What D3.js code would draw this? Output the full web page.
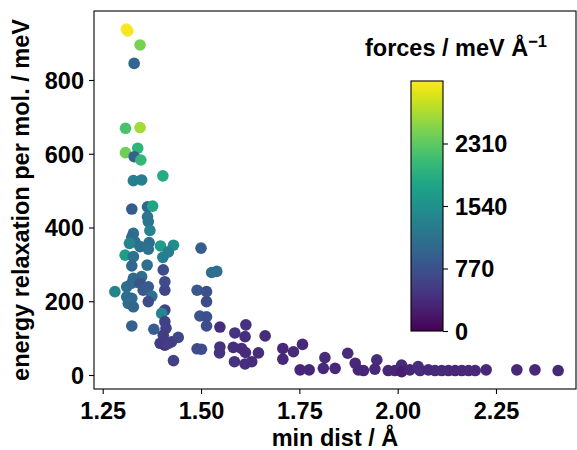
<!DOCTYPE html>
<html><head><meta charset="utf-8">
<script src="https://cdn.jsdelivr.net/npm/d3@7/dist/d3.min.js"></script>
<style>
html,body{margin:0;padding:0;background:#fff;}
svg{display:block;font-family:"Liberation Sans",Arial,sans-serif;font-weight:bold;}
</style></head>
<body>
<svg id="chart" width="577" height="450"></svg>
<script>
// ---- data ----
const minDist = [1.310,1.314,1.345,1.330,1.308,1.345,1.339,1.308,1.330,1.347,1.403,1.328,1.349,1.324,1.364,1.377,1.364,1.366,1.370,1.328,
1.324,1.332,1.318,1.345,1.368,1.366,1.397,1.430,1.417,1.403,1.307,1.328,1.324,1.363,1.404,1.500,1.328,1.349,1.408,1.281,
1.311,1.324,1.345,1.353,1.366,1.375,1.408,1.311,1.324,1.315,1.328,1.366,1.490,1.408,1.400,1.324,1.380,1.408,1.411,1.404,
1.442,1.425,1.396,1.408,1.417,1.430,1.514,1.514,1.497,1.514,1.514,1.548,1.527,1.540,1.614,1.586,1.612,1.663,1.490,1.501,
1.548,1.547,1.582,1.603,1.613,1.646,1.629,1.585,1.612,1.708,1.708,1.735,1.758,1.752,1.775,1.815,1.811,1.841,1.873,1.892,
1.900,1.913,1.947,1.942,1.976,1.993,2.010,2.010,2.031,2.052,2.057,2.078,2.095,2.112,2.129,2.146,2.163,2.180,2.197,2.225,
2.303,2.349,2.408];
const energyRelax = [938,933,895,845,669,671,615,603,592,583,540,527,529,450,456,458,429,416,392,384,
373,361,357,348,359,341,350,352,334,319,325,321,296,298,285,344,262,267,253,226,
239,249,249,230,239,214,230,212,208,194,185,199,230,176,167,133,124,145,127,108,
102,90,86,81,86,39,226,199,160,158,133,130,278,281,136,114,104,106,71,70,
76,60,75,72,61,60,36,36,30,72,43,63,83,14,14,47,18,18,59,32,
14,12,41,16,12,12,27,9,14,23,12,14,12,12,12,12,12,12,12,14,
14,14,12];
const forces = [3080,3040,2450,1000,2200,2650,2000,2400,950,2050,1900,1300,1300,880,1000,1800,1200,1200,1350,1100,
1050,1100,1400,1100,1100,1150,1700,1500,1300,1300,1700,1150,1000,1100,700,900,1050,1050,700,1400,
1100,1050,800,850,900,1150,650,1100,1050,1100,1000,700,850,600,1400,950,900,600,600,550,
650,600,550,500,550,600,750,700,800,750,700,400,1100,1100,450,450,400,380,700,700,
450,450,400,400,380,380,380,450,400,350,350,380,350,330,330,380,350,350,380,350,
330,330,380,350,330,330,380,250,330,400,400,370,370,370,340,340,340,340,340,340,
340,340,340];
const xTicks = [1.25, 1.50, 1.75, 2.00, 2.25];
const yTicks = [0, 200, 400, 600, 800];
const cTicks = [0, 770, 1540, 2310];
const forceMax = 3080;

// ---- layout ----
const svg = d3.select("#chart");
const L = 94, R = 576, T = 11, B = 389;
const x = d3.scaleLinear().domain([1.2279, 2.4534]).range([L, R]);
const y = d3.scaleLinear().domain([-37.97, 987.1]).range([B, T]);
const color = d3.scaleSequential(d3.interpolateViridis).domain([0, forceMax]);
const FS = 23.5;
const FF = '"Liberation Sans",Arial,sans-serif';

// points
const pts = minDist.map((d, i) => ({x: d, y: energyRelax[i], c: forces[i]}));
svg.append("g").selectAll("circle").data(pts).join("circle")
  .attr("cx", d => x(d.x)).attr("cy", d => y(d.y)).attr("r", 5.8)
  .attr("fill", d => color(d.c));

// frame
svg.append("rect").attr("x", L).attr("y", T).attr("width", R - L).attr("height", B - T)
  .attr("fill", "none").attr("stroke", "#000").attr("stroke-width", 1.1);

// x axis
const xa = svg.append("g").attr("transform", `translate(0,${B})`)
  .call(d3.axisBottom(x).tickValues(xTicks).tickFormat(d3.format(".2f")).tickSize(5).tickPadding(5));
// y axis
const ya = svg.append("g").attr("transform", `translate(${L},0)`)
  .call(d3.axisLeft(y).tickValues(yTicks).tickFormat(d3.format("d")).tickSize(5).tickPadding(5));
[xa, ya].forEach(a => {
  a.select(".domain").remove();
  a.selectAll(".tick line").attr("stroke", "#000").attr("stroke-width", 1.1);
  a.selectAll(".tick text").attr("fill", "#000").style("font-size", FS + "px")
    .style("font-family", FF).style("font-weight", "bold");
});
xa.selectAll(".tick text").attr("dy", null).attr("y", 30);
ya.selectAll(".tick text").attr("dy", "0.36em");

// axis labels
svg.append("text").attr("x", (L + R) / 2).attr("y", 446).attr("text-anchor", "middle")
  .style("font-size", FS + "px").text("min dist / Å");
svg.append("text").attr("transform", `translate(29,${(T + B) / 2}) rotate(-90)`)
  .attr("text-anchor", "middle").style("font-size", FS + "px")
  .text("energy relaxation per mol. / meV");

// colorbar
const cbL = 411, cbR = 443, cbT = 81, cbB = 331;
const grad = svg.append("defs").append("linearGradient").attr("id", "vir")
  .attr("x1", 0).attr("y1", 1).attr("x2", 0).attr("y2", 0);
d3.range(0, 1.0001, 0.05).forEach(t => {
  grad.append("stop").attr("offset", t).attr("stop-color", d3.interpolateViridis(t));
});
svg.append("rect").attr("x", cbL).attr("y", cbT).attr("width", cbR - cbL).attr("height", cbB - cbT)
  .attr("fill", "url(#vir)").attr("stroke", "#000").attr("stroke-width", 1.1);
const cy = d3.scaleLinear().domain([0, forceMax]).range([cbB, cbT]);
const ca = svg.append("g").attr("transform", `translate(${cbR},0)`)
  .call(d3.axisRight(cy).tickValues(cTicks).tickFormat(d3.format("d")).tickSize(5).tickPadding(7));
ca.select(".domain").remove();
ca.selectAll(".tick line").attr("stroke", "#000").attr("stroke-width", 1.1);
ca.selectAll(".tick text").attr("fill", "#000").style("font-size", FS + "px")
  .style("font-family", FF).style("font-weight", "bold")
  .attr("dy", "0.36em");

const ttl = svg.append("text").attr("x", 456).attr("y", 56).attr("text-anchor", "middle")
  .style("font-size", FS + "px");
ttl.append("tspan").text("forces / meV Å");
ttl.append("tspan").attr("dy", -9).style("font-size", "16.5px").text("−1");
</script>
</body></html>
